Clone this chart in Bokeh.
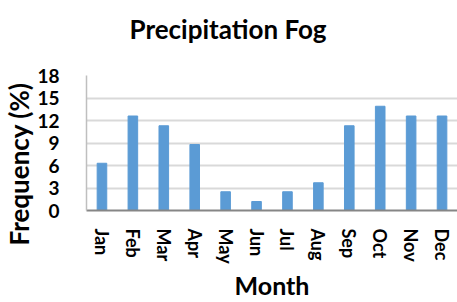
from bokeh.plotting import figure
from bokeh.models import Range1d, FactorRange, Title
from bokeh.embed import file_html
from bokeh.resources import INLINE

months = ["Jan", "Feb", "Mar", "Apr", "May", "Jun", "Jul", "Aug", "Sep", "Oct", "Nov", "Dec"]
frequency = [6.3, 12.6, 11.3, 8.8, 2.5, 1.2, 2.5, 3.7, 11.3, 13.9, 12.6, 12.6]
y_ticks = [0, 3, 6, 9, 12, 15, 18]

FONT = "Lato"

p = figure(width=457, height=302, x_range=FactorRange(factors=months, range_padding=0),
           y_range=Range1d(0, 18), output_backend="svg", toolbar_location=None,
           min_border_left=84, min_border_right=0, min_border_top=75, min_border_bottom=89)
p.outline_line_color = None
p.background_fill_color = "white"
p.border_fill_color = "white"

p.vbar(x=months, top=frequency, width=0.31, color="#5b9bd5")

p.yaxis.ticker = y_ticks
p.yaxis.major_tick_line_color = None
p.yaxis.minor_tick_line_color = None
p.yaxis.axis_line_color = "#bfbfbf"
p.yaxis.axis_line_width = 1.5
p.yaxis.major_label_standoff = 21
p.yaxis.major_label_text_font = FONT
p.yaxis.major_label_text_font_style = "bold"
p.yaxis.major_label_text_font_size = "19px"
p.yaxis.major_label_text_color = "black"

p.xaxis.major_tick_line_color = None
p.xaxis.minor_tick_line_color = None
p.xaxis.axis_line_color = "#868686"
p.xaxis.axis_line_width = 2
p.xaxis.major_label_orientation = "vertical"
p.xaxis.major_label_standoff = 12
p.xaxis.major_label_text_font = FONT
p.xaxis.major_label_text_font_style = "bold"
p.xaxis.major_label_text_font_size = "18px"
p.xaxis.major_label_text_color = "black"
p.xaxis.axis_label = "Month"
p.xaxis.axis_label_text_font = FONT
p.xaxis.axis_label_text_font_style = "bold"
p.xaxis.axis_label_text_font_size = "25px"
p.xaxis.axis_label_text_color = "black"
p.xaxis.axis_label_standoff = 3

p.xgrid.grid_line_color = None
p.ygrid.grid_line_color = "#d9d9d9"
p.ygrid.grid_line_width = 2

ytitle = Title(text="Frequency (%)", align="left", offset=-35,
               text_font=FONT, text_font_style="bold", text_font_size="26px",
               text_color="black", standoff=0)
p.add_layout(ytitle, "left")

spacer = Title(text=" ", text_font_size="1px", standoff=28)
p.add_layout(spacer, "above")

title = Title(text="Precipitation Fog", align="left", offset=43,
              text_font=FONT, text_font_style="bold", text_font_size="26px",
              text_color="black", standoff=0)
p.add_layout(title, "above")

open("out.html", "w").write(file_html(p, INLINE))
